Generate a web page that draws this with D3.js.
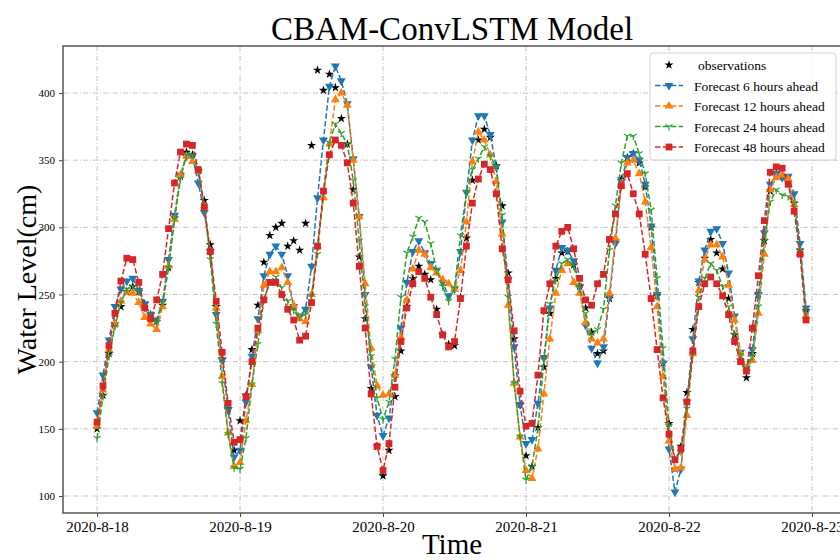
<!DOCTYPE html>
<html>
<head>
<meta charset="utf-8">
<script src="https://cdn.jsdelivr.net/npm/d3@7"></script>
<style>
  body { margin: 0; background: #fff; }
  svg { font-family: "Liberation Serif", "DejaVu Serif", serif; }
</style>
</head>
<body>
<svg id="chart" width="840" height="560"></svg>
<script>
// hourly values from 2020-8-18 00:00
const startTime = new Date(2020, 7, 18, 0, 0);

const observations = [150,175,206,228,241,252,256,252,243,235,230,242,270,307,338,356,354,342,320,287,
  241,202,165,134,156,175,209,242,274,294,300,303,286,290,283,303,361,417,402,414,
  404,381,362,328,278,232,180,137,115,134,174,208,241,262,271,265,261,239,220,213,
  212,248,292,335,365,373,367,346,316,266,217,168,130,122,151,196,236,262,281,282,
  272,256,240,222,206,208,247,290,336,352,355,348,330,300,249,199,154,120,137,177,
  224,259,277,291,281,269,247,220,201,188,206,250,290,327,340,338,334,318,283,238];

const forecast6 = [162,190,216,241,254,260,262,253,243,235,231,245,276,309,339,353,353,333,311,282,
  235,201,164,129,134,170,204,232,264,280,286,280,264,241,234,239,271,322,365,405,
  420,409,392,351,308,250,196,160,145,158,189,225,259,282,290,281,273,268,259,249,
  254,282,326,365,383,383,369,345,304,261,211,168,139,142,169,203,240,268,285,283,
  275,256,227,210,199,211,248,288,334,352,355,350,332,301,250,199,135,103,120,170,
  217,260,283,297,299,288,266,234,207,195,209,250,296,332,340,337,338,325,288,240];

const forecast12 = [152,179,209,228,245,252,251,244,233,228,224,241,271,306,339,353,349,342,316,282,
  240,189,147,122,125,156,183,223,257,267,267,270,259,242,232,230,250,286,322,362,
  395,400,391,350,308,258,210,182,175,176,190,218,246,269,283,280,270,266,261,258,
  254,268,304,349,371,365,354,334,295,242,184,144,119,113,135,176,217,251,268,273,
  259,251,229,217,214,217,251,292,331,348,350,340,319,285,241,189,141,120,121,160,
  206,253,276,287,287,278,257,231,206,195,201,236,280,328,337,339,336,317,281,234];

const forecast24 = [143,174,204,226,244,254,256,252,240,233,229,244,270,306,336,354,354,341,316,276,
  228,184,146,121,120,143,183,213,246,260,263,255,245,238,233,235,249,280,327,363,
  377,370,362,335,290,241,204,173,157,170,202,248,281,293,307,304,288,268,256,245,
  255,294,326,343,351,360,353,345,309,248,184,144,112,122,150,201,243,261,273,276,
  271,255,236,220,224,239,283,316,348,368,368,355,340,313,262,210,152,128,133,165,
  205,248,262,273,268,256,241,220,205,195,204,241,290,319,328,324,323,318,283,236];

const forecast48 = [155,182,212,236,260,277,276,259,240,232,246,265,299,333,356,362,361,343,315,282,
  245,207,169,140,142,174,200,225,246,259,259,250,239,231,216,219,244,286,327,354,
  365,361,348,318,271,225,176,137,119,139,181,215,240,258,267,262,248,235,220,211,
  215,247,286,318,336,347,343,325,284,261,223,178,152,154,190,238,258,286,297,300,
  284,262,246,242,258,265,291,310,331,340,325,310,280,247,209,173,146,127,135,170,
  208,241,258,263,258,249,235,215,200,193,225,264,305,341,345,344,332,312,280,231];

const yTicks = [100, 150, 200, 250, 300, 350, 400];
const dayTicks = ["2020-08-18", "2020-08-19", "2020-08-20", "2020-08-21", "2020-08-22", "2020-08-23"];

const seriesList = [
  { name: "Forecast 6 hours ahead", values: forecast6, color: "#1f77b4", marker: "tridown" },
  { name: "Forecast 12 hours ahead", values: forecast12, color: "#ff7f0e", marker: "triup" },
  { name: "Forecast 24 hours ahead", values: forecast24, color: "#2ca02c", marker: "yshape" },
  { name: "Forecast 48 hours ahead", values: forecast48, color: "#d62728", marker: "square" }
];

const svg = d3.select("#chart");
const margin = { left: 63, top: 46, right: -1, bottom: 47 };
const W = 840, H = 560;
const pw = W - margin.left - margin.right;
const ph = H - margin.top - margin.bottom;

const timeOf = i => d3.timeHour.offset(startTime, i);

const x = d3.scaleTime()
  .domain([d3.timeMinute.offset(startTime, -343), d3.timeMinute.offset(startTime, 124.87 * 60)])
  .range([0, pw]);
const y = d3.scaleLinear().domain([87.34, 435]).range([ph, 0]);

const g = svg.append("g").attr("transform", `translate(${margin.left},${margin.top})`);

g.append("clipPath").attr("id", "clip")
  .append("rect").attr("width", pw).attr("height", ph);

const parseDay = d3.timeParse("%Y-%m-%d");
const dayDates = dayTicks.map(parseDay);

// grid
const grid = g.append("g");
grid.selectAll(".gx").data(dayDates).enter().append("line")
  .attr("x1", d => x(d)).attr("x2", d => x(d))
  .attr("y1", 0).attr("y2", ph)
  .attr("stroke", "#c4c4c4").attr("stroke-width", 1)
  .attr("stroke-dasharray", "5,2,1,2");
grid.selectAll(".gy").data(yTicks).enter().append("line")
  .attr("x1", 0).attr("x2", pw)
  .attr("y1", d => y(d)).attr("y2", d => y(d))
  .attr("stroke", "#c4c4c4").attr("stroke-width", 1)
  .attr("stroke-dasharray", "5,2,1,2");

// axes
const xAxis = g.append("g").attr("transform", `translate(0,${ph})`)
  .call(d3.axisBottom(x).tickValues(dayDates).tickFormat(d3.timeFormat("%Y-%-m-%-d")).tickSize(4).tickPadding(4));
xAxis.selectAll("text").attr("font-size", 15).attr("fill", "#000");
const yAxis = g.append("g")
  .call(d3.axisLeft(y).tickValues(yTicks).tickSize(4).tickPadding(4));
yAxis.selectAll("text").attr("font-size", 11).attr("fill", "#000");
[xAxis, yAxis].forEach(a => {
  a.select(".domain").remove();
  a.selectAll(".tick line").attr("stroke", "#444");
  a.attr("font-family", "Liberation Serif, serif");
});

// markers
const starPath = d3.symbol().type(d3.symbolStar).size(26)();
function markerPath(kind) {
  if (kind === "tridown" || kind === "triup") return d3.symbol().type(d3.symbolTriangle).size(34)();
  if (kind === "square") return d3.symbol().type(d3.symbolSquare).size(46)();
  const r = 4;
  return `M0,0L0,${r}M0,0L${-0.866 * r},${-0.5 * r}M0,0L${0.866 * r},${-0.5 * r}`;
}
function drawMarker(sel, kind, color) {
  const p = sel.append("path").attr("d", markerPath(kind));
  if (kind === "yshape") p.attr("fill", "none").attr("stroke", color).attr("stroke-width", 1.2);
  else p.attr("fill", color);
  if (kind === "tridown") p.attr("transform", "rotate(180)");
  return p;
}

const plot = g.append("g").attr("clip-path", "url(#clip)");

// observations
plot.append("g").selectAll("path").data(observations).enter().append("path")
  .attr("d", starPath)
  .attr("transform", (d, i) => `translate(${x(timeOf(i))},${y(d)})`)
  .attr("fill", "#000");

const line = d3.line().x((d, i) => x(timeOf(i))).y(d => y(d));

seriesList.forEach(s => {
  const sg = plot.append("g");
  sg.append("path").datum(s.values)
    .attr("d", line)
    .attr("fill", "none")
    .attr("stroke", s.color)
    .attr("stroke-width", 1.5)
    .attr("stroke-dasharray", "5.5,2.4");
  s.values.forEach((v, i) => {
    const mg = sg.append("g").attr("transform", `translate(${x(timeOf(i))},${y(v)})`);
    drawMarker(mg, s.marker, s.color);
  });
});

// frame
g.append("rect").attr("width", pw).attr("height", ph)
  .attr("fill", "none").attr("stroke", "#555").attr("stroke-width", 1.5);

// titles
svg.append("text").attr("x", margin.left + pw / 2).attr("y", 40)
  .attr("text-anchor", "middle").attr("font-size", 33).text("CBAM-ConvLSTM Model");
svg.append("text").attr("x", margin.left + pw / 2).attr("y", 554)
  .attr("text-anchor", "middle").attr("font-size", 29).text("Time");
svg.append("text")
  .attr("transform", `translate(36,${margin.top + ph / 2}) rotate(-90)`)
  .attr("text-anchor", "middle").attr("font-size", 28).text("Water Level(cm)");

// legend
const lg = svg.append("g").attr("transform", "translate(650,53)");
lg.append("rect").attr("width", 186).attr("height", 107).attr("rx", 3)
  .attr("fill", "rgba(255,255,255,0.85)").attr("stroke", "#d0d0d0");
const legendItems = [{ name: "observations", marker: "star", color: "#000" }].concat(seriesList);
legendItems.forEach((d, i) => {
  const row = lg.append("g").attr("transform", `translate(0,${12 + i * 20.5})`);
  if (d.marker === "star") {
    row.append("path").attr("d", starPath).attr("transform", "translate(19,0)").attr("fill", "#000");
    row.append("text").attr("x", 48).attr("y", 5).attr("font-size", 13.5).text(d.name);
  } else {
    row.append("line").attr("x1", 5).attr("x2", 33).attr("y1", 0).attr("y2", 0)
      .attr("stroke", d.color).attr("stroke-width", 1.5).attr("stroke-dasharray", "5.5,2.4");
    const mg = row.append("g").attr("transform", "translate(19,0)");
    drawMarker(mg, d.marker, d.color);
    row.append("text").attr("x", 44).attr("y", 5).attr("font-size", 13.5).text(d.name);
  }
});
</script>
</body>
</html>
